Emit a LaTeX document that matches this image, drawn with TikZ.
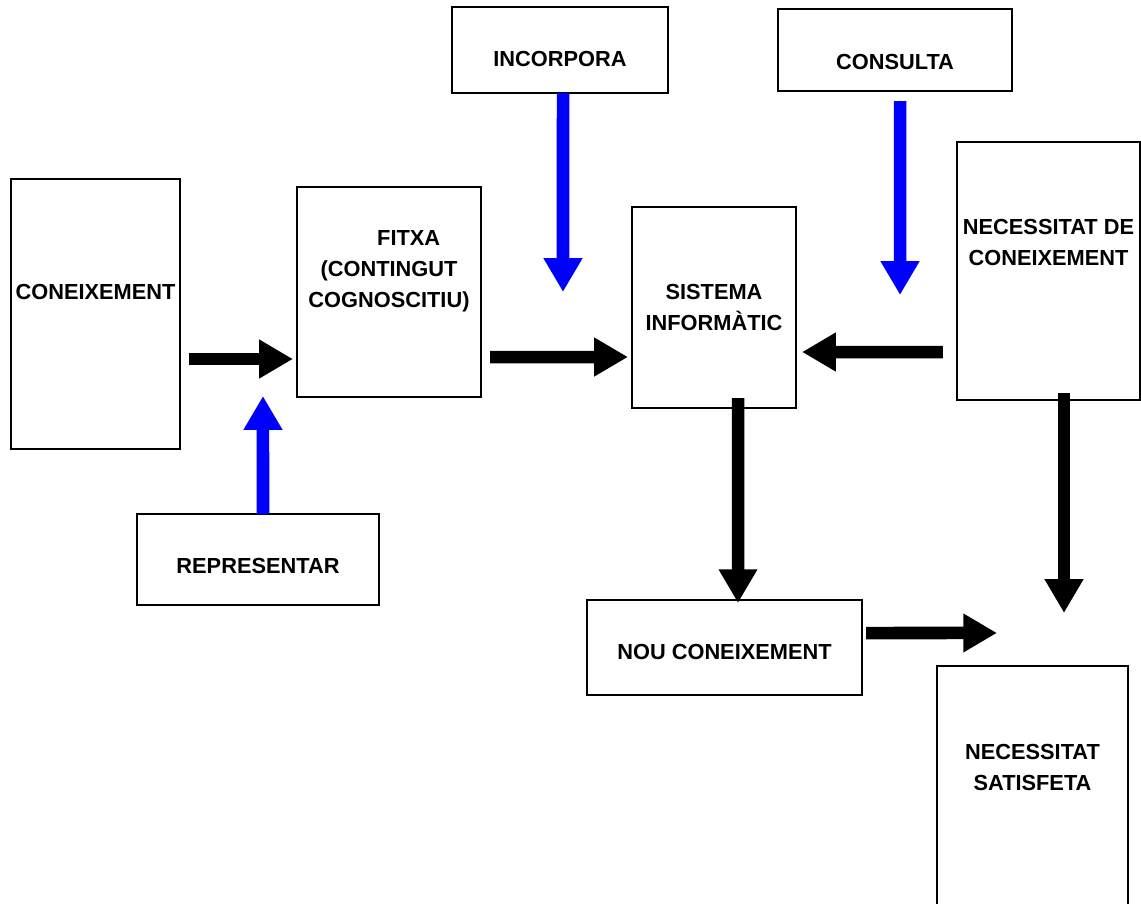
\documentclass[tikz,border=0pt]{standalone}
\usepackage{fontspec}
\setmainfont{Liberation Sans}
\usetikzlibrary{arrows.meta, calc}

\tikzset{
	box/.style={draw, line width=1.1pt, inner sep=0pt, outer sep=0pt},
	lbl/.style={font=\fontsize{15.5}{22}\selectfont\bfseries, align=center},
	flow/.style={line width=8.9pt, -{Triangle[length=24pt, width=26pt]}},
	bflow/.style={flow, blue}
}

\begin{document}
\begin{tikzpicture}[x=0.025cm, y=-0.025cm]
		\useasboundingbox (0,0) rectangle (1141,903);

		\node[box, minimum width=4.225cm, minimum height=6.75cm, label={[lbl, yshift=15.6pt]center:CONEIXEMENT}] (con) at (95.5, 314) {};
		\node[box, minimum width=4.6cm, minimum height=5.25cm, label={[lbl, yshift=15pt]center:\hspace*{28pt}FITXA\\(CONTINGUT\\COGNOSCITIU)}] (fit) at (389, 292) {};
		\node[box, minimum width=6.05cm, minimum height=2.275cm, label={[lbl, yshift=-4.6pt]center:REPRESENTAR}] (rep) at (258, 559.5) {};
		\node[box, minimum width=5.4cm, minimum height=2.15cm, label={[lbl, yshift=-6.4pt]center:INCORPORA}] (inc) at (560, 50) {};
		\node[box, minimum width=4.1cm, minimum height=5.025cm, label={[lbl]center:SISTEMA\\INFORMÀTIC}] (sis) at (714, 307.5) {};
		\node[box, minimum width=5.85cm, minimum height=2.05cm, label={[lbl, yshift=-8.5pt]center:CONSULTA}] (cons) at (895, 50) {};
		\node[box, minimum width=4.575cm, minimum height=6.45cm, label={[lbl, yshift=20pt]center:NECESSITAT DE\\CONEIXEMENT}] (nec) at (1048.5, 271) {};
		\node[box, minimum width=6.875cm, minimum height=2.375cm, label={[lbl, yshift=-3.2pt]center:NOU CONEIXEMENT}] (nou) at (724.5, 647.5) {};
		\node[box, minimum width=4.775cm, minimum height=7.35cm, label={[lbl, yshift=32.7pt]center:NECESSITAT\\SATISFETA}] (sat) at (1032.5, 813) {};

		\draw[flow] ($(con.east)+(9,45)$) -- ($(fit.west)+(-4,67)$);
		\draw[flow] ($(fit.east)+(9,65)$) -- ($(sis.west)+(-4,49.5)$);
		\draw[flow] ($(nec.west)+(-14,81)$) -- ($(sis.east)+(6,44.5)$);
		\draw[flow] ($(sis.south)+(24,-10)$) -- ($(nou.north)+(13.5,3)$);
		\draw[flow] ($(nec.south)+(15.5,-7)$) -- ($(sat.north)+(31.5,-53)$);
		\draw[flow] ($(nou.east)+(4,-14.5)$) -- ($(sat.north)+(-35.5,-33)$);

		\draw[bflow] ($(rep.north)+(5,0)$) -- ($(fit.south west)+(-34,-1)$);
		\draw[bflow] ($(inc.south)+(3,0)$) -- ($(sis.north west)+(-69,85)$);
		\draw[bflow] ($(cons.south)+(5,10)$) -- ($(sis.north east)+(104,88)$);
	\end{tikzpicture}
\end{document}
